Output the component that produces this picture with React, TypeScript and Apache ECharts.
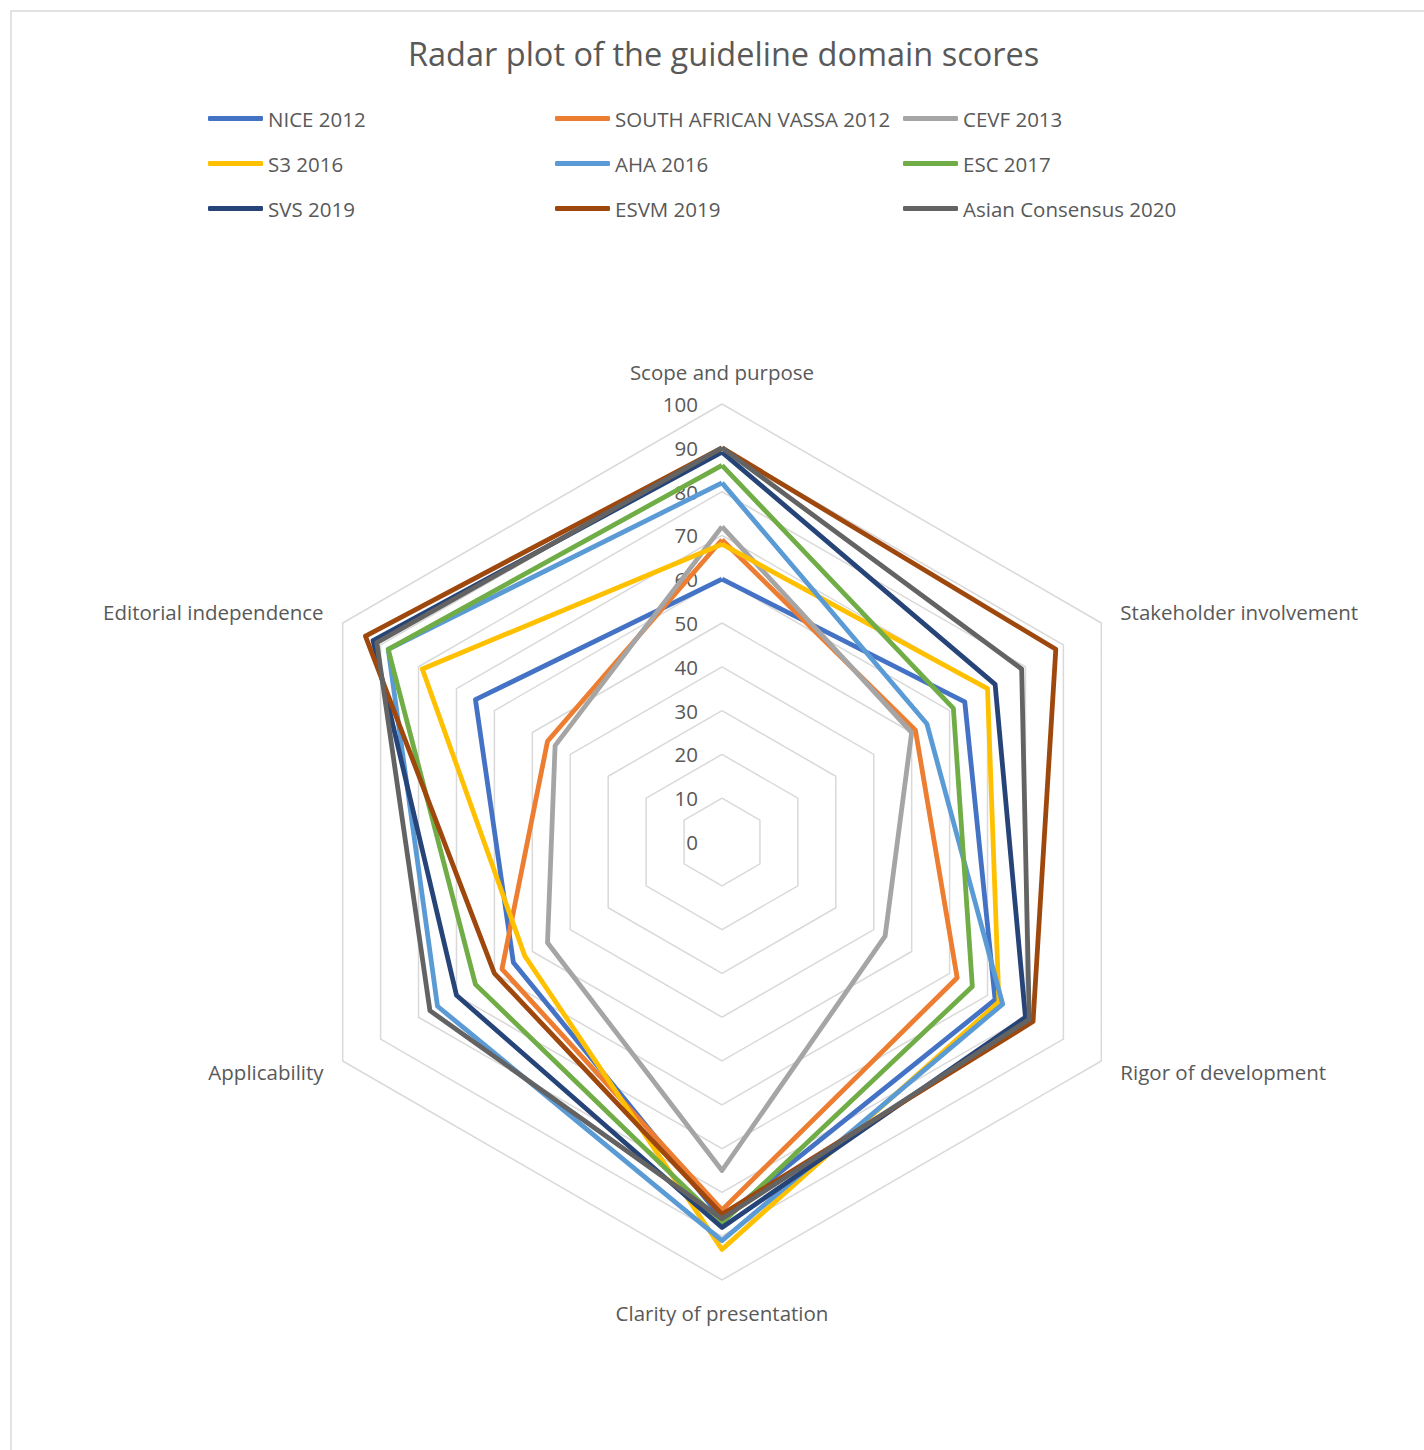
import React, { useEffect, useRef } from "react";
import * as echarts from "echarts";

const indicators = [
  "Scope and purpose",
  "Stakeholder involvement",
  "Rigor of development",
  "Clarity of presentation",
  "Applicability",
  "Editorial independence",
];

const seriesNames = [
  "NICE 2012",
  "SOUTH AFRICAN VASSA 2012",
  "CEVF 2013",
  "S3 2016",
  "AHA 2016",
  "ESC 2017",
  "SVS 2019",
  "ESVM 2019",
  "Asian Consensus 2020",
];

const nice2012 = [60, 64, 72, 86, 55, 65];
const southAfrican2012 = [69, 51, 62, 84, 58, 46];
const cevf2013 = [72, 50, 43, 75, 46, 44];
const s3_2016 = [68, 70, 73, 93, 52, 79];
const aha2016 = [82, 54, 74, 91, 75, 88];
const esc2017 = [86, 61, 66, 87, 65, 88];
const svs2019 = [89, 72, 80, 88, 70, 92];
const esvm2019 = [90, 88, 82, 85, 60, 94];
const asian2020 = [90, 79, 81, 86, 77, 91];

const seriesValues = [
  nice2012,
  southAfrican2012,
  cevf2013,
  s3_2016,
  aha2016,
  esc2017,
  svs2019,
  esvm2019,
  asian2020,
];

const colors = [
  "#4472C4",
  "#ED7D31",
  "#A5A5A5",
  "#FFC000",
  "#5B9BD5",
  "#70AD47",
  "#264478",
  "#9E480E",
  "#636363",
];

// ECharts radar runs counter-clockwise; the reference runs clockwise.
const displayOrder = [0, 5, 4, 3, 2, 1];

const FONT = "'Open Sans', 'Noto Sans', sans-serif";
const TEXT = "#595959";

export default function App() {
  const ref = useRef<HTMLDivElement>(null);
  useEffect(() => {
    if (!ref.current) return;
    const chart = echarts.init(ref.current, null, { renderer: "svg" });
    const legendCols = [0, 1, 2].map((c) => ({
      orient: "vertical" as const,
      left: [208, 555, 903][c],
      top: 106,
      itemWidth: 55,
      itemHeight: 5,
      itemGap: 20,
      icon: "roundRect",
      data: [seriesNames[c], seriesNames[c + 3], seriesNames[c + 6]],
      textStyle: { color: TEXT, fontSize: 20.5, fontFamily: FONT, lineHeight: 25, padding: [0, 0, 0, 0] },
      padding: 0,
    }));
    chart.setOption({
      animation: false,
      backgroundColor: "#ffffff",
      title: {
        text: "Radar plot of the guideline domain scores",
        left: 403,
        top: 32,
        textStyle: { color: TEXT, fontSize: 32.5, fontWeight: "normal", fontFamily: FONT },
      },
      legend: legendCols,
      graphic: [
        {
          type: "rect",
          x: 11,
          y: 11,
          shape: { x: 0, y: 0, width: 1600, height: 1600 },
          style: { fill: "none", stroke: "#d9d9d9", lineWidth: 1.5 },
          silent: true,
        },
      ],
      radar: {
        center: [722, 842],
        radius: 438,
        startAngle: 90,
        splitNumber: 10,
        shape: "polygon",
        nameGap: 22,
        indicator: displayOrder.map((k) => ({ name: indicators[k], min: 0, max: 100 })),
        axisName: { color: TEXT, fontSize: 20.5, fontFamily: FONT },
        axisLine: { show: false },
        axisTick: { show: false },
        axisLabel: { show: false },
        splitArea: { show: false },
        splitLine: { lineStyle: { color: "#d9d9d9", width: 1.5 } },
      },
      polar: { center: [722, 842], radius: 438 },
      angleAxis: { show: false, startAngle: 90, min: 0, max: 360 },
      radiusAxis: {
        min: 0,
        max: 100,
        interval: 10,
        axisLine: { show: false },
        axisTick: { show: false },
        splitLine: { show: false },
        axisLabel: { color: TEXT, fontSize: 20.5, fontFamily: FONT, margin: 24 },
      },
      series: seriesNames.map((name, i) => ({
        type: "radar",
        name,
        symbol: "none",
        data: [{ value: displayOrder.map((k) => seriesValues[i][k]), name }],
        itemStyle: { color: colors[i] },
        lineStyle: { color: colors[i], width: 4.8 },
        z: 2 + i * 0.01,
      })),
    });
    return () => chart.dispose();
  }, []);
  return (
    <div
      ref={ref}
      style={{ position: "absolute", left: 0, top: 0, width: 1424, height: 1450 }}
    />
  );
}
